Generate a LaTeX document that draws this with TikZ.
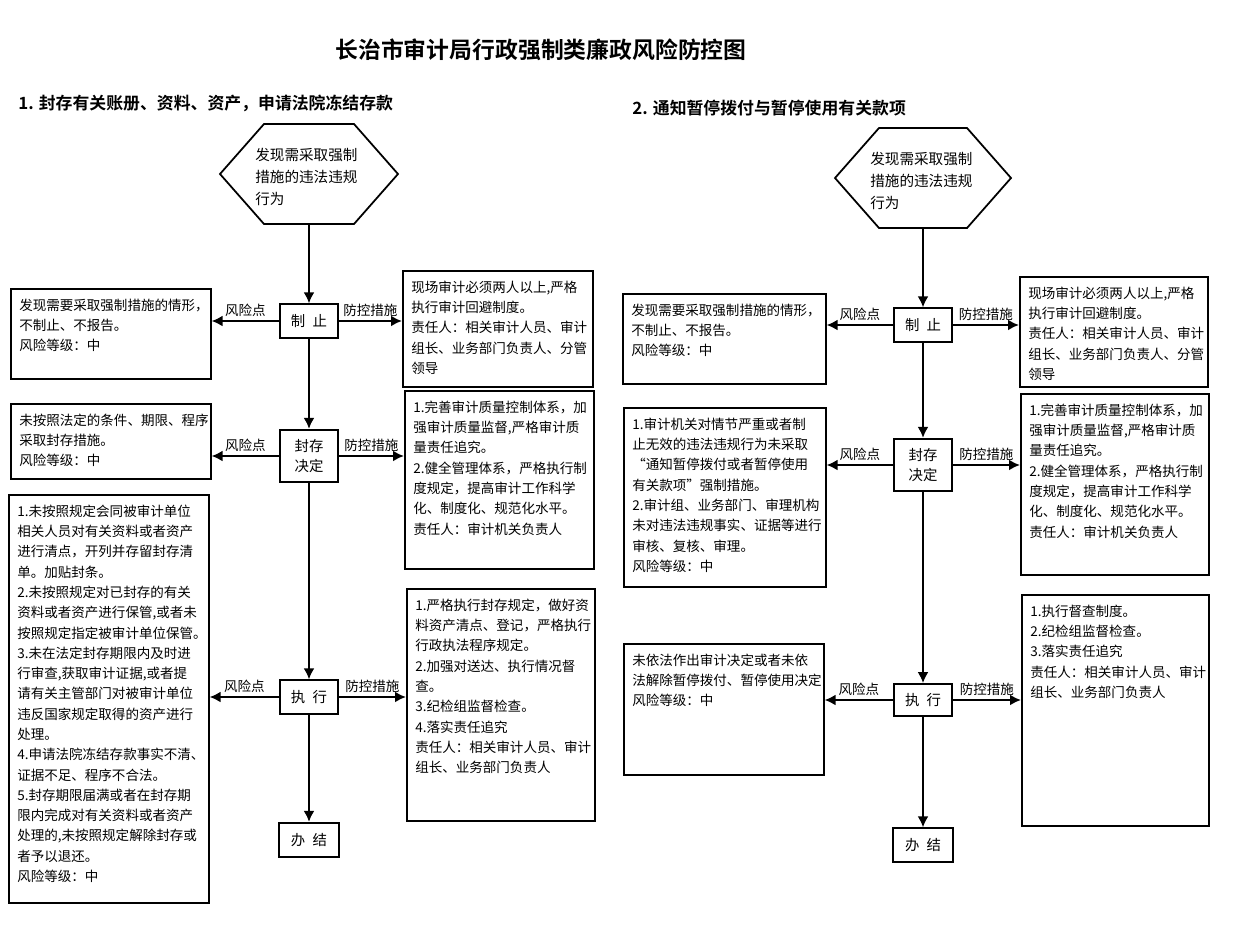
\documentclass[tikz,border=0pt]{standalone}
\usepackage{fontspec}
\setmainfont{Noto Sans CJK SC}[BoldFont={Noto Sans CJK SC Bold}]
\usetikzlibrary{arrows.meta}
\newlength{\pxu}\setlength{\pxu}{0.02cm}
\newcommand{\boxtext}[3]{\parbox[t][#2\pxu][t]{#1\pxu}{\raggedright #3}}

\begin{document}
\begin{tikzpicture}[x=0.02cm,y=-0.02cm,
	sidebox/.style={draw,line width=0.9pt,anchor=north west,inner xsep=0.17cm,inner ysep=0.2cm,font=\fontsize{7.7pt}{11.55pt}\selectfont},
	stepbox/.style={draw,line width=1pt,minimum width=1.16cm,inner sep=0pt,align=center,font=\fontsize{8.2pt}{11.5pt}\selectfont},
	flow/.style={-{Latex[length=2.2mm,width=2.2mm]},line width=1.5pt},
	tag/.style={above,midway,inner sep=1.5pt,font=\fontsize{7.7pt}{9pt}\selectfont},
	hexline/.style={line width=1pt},
	hextext/.style={anchor=north west,align=left,inner sep=0pt,font=\fontsize{8.3pt}{12.5pt}\selectfont}]
		\useasboundingbox (0,0) rectangle (1237,951);
		% titles
		\node[font=\fontsize{13pt}{15pt}\selectfont\bfseries] (title) at (541,50) {长治市审计局行政强制类廉政风险防控图};
		\node[anchor=west,inner sep=0pt,font=\fontsize{9.6pt}{11pt}\selectfont\bfseries] (head1) at (18,103) {1. 封存有关账册、资料、资产，申请法院冻结存款};
		\node[anchor=west,inner sep=0pt,font=\fontsize{9.6pt}{11pt}\selectfont\bfseries] (head2) at (632,108) {2. 通知暂停拨付与暂停使用有关款项};

		% left chart
		\draw[hexline] (220,174) -- (264,124) -- (354,124) -- (398,174) -- (354,224) -- (264,224) -- cycle;
		\coordinate (hex1s) at (309,224);
		\node[hextext] (hex1) at (255,148) {发现需采取强制\\措施的违法违规\\行为};
		\node[stepbox,minimum height=0.67cm] (stop1) at (309,321) {制\hspace{0.5em}止};
		\node[stepbox,minimum height=1.05cm] (seal1) at (309,456) {封存\\决定};
		\node[stepbox,minimum height=0.67cm] (exec1) at (309,697) {执\hspace{0.5em}行};
		\node[stepbox,minimum height=0.69cm,minimum width=1.2cm] (done1) at (309,840) {办\hspace{0.5em}结};

		\node[sidebox] (risk1) at (10,288) {\boxtext{183}{70}{发现需要采取强制措施的情形，\\不制止、不报告。\\风险等级：中}};
		\node[sidebox] (ctrl1) at (402,270) {\boxtext{173}{96}{现场审计必须两人以上,严格\\执行审计回避制度。\\责任人：相关审计人员、审计\\组长、业务部门负责人、分管\\领导}};
		\node[sidebox] (risk2) at (10,403) {\boxtext{183}{55}{未按照法定的条件、期限、程序\\采取封存措施。\\风险等级：中}};
		\node[sidebox] (ctrl2) at (404,390) {\boxtext{172}{158}{1.完善审计质量控制体系，加\\强审计质量监督,严格审计质\\量责任追究。\\2.健全管理体系，严格执行制\\度规定，提高审计工作科学\\化、制度化、规范化水平。\\责任人：审计机关负责人}};
		\node[sidebox] (risk3) at (8,494) {\boxtext{183}{388}{1.未按照规定会同被审计单位\\相关人员对有关资料或者资产\\进行清点，开列并存留封存清\\单。加贴封条。\\2.未按照规定对已封存的有关\\资料或者资产进行保管,或者未\\按照规定指定被审计单位保管。\\3.未在法定封存期限内及时进\\行审查,获取审计证据,或者提\\请有关主管部门对被审计单位\\违反国家规定取得的资产进行\\处理。\\4.申请法院冻结存款事实不清、\\证据不足、程序不合法。\\5.封存期限届满或者在封存期\\限内完成对有关资料或者资产\\处理的,未按照规定解除封存或\\者予以退还。\\风险等级：中}};
		\node[sidebox] (ctrl3) at (406,588) {\boxtext{171}{212}{1.严格执行封存规定，做好资\\料资产清点、登记，严格执行\\行政执法程序规定。\\2.加强对送达、执行情况督\\查。\\3.纪检组监督检查。\\4.落实责任追究\\责任人：相关审计人员、审计\\组长、业务部门负责人}};

		\draw[flow] (hex1s) -- (stop1.north);
		\draw[flow] (stop1.south) -- (seal1.north);
		\draw[flow] (seal1.south) -- (exec1.north);
		\draw[flow] (exec1.south) -- (done1.north);
		\draw[flow] (stop1.west) -- (stop1.west -| risk1.east) node[tag]{风险点};
		\draw[flow] (stop1.east) -- (stop1.east -| ctrl1.west) node[tag]{防控措施};
		\draw[flow] (seal1.west) -- (seal1.west -| risk2.east) node[tag]{风险点};
		\draw[flow] (seal1.east) -- (seal1.east -| ctrl2.west) node[tag]{防控措施};
		\draw[flow] (exec1.west) -- (exec1.west -| risk3.east) node[tag]{风险点};
		\draw[flow] (exec1.east) -- (exec1.east -| ctrl3.west) node[tag]{防控措施};

		% right chart
		\draw[hexline] (835,178) -- (879,128) -- (967,128) -- (1011,178) -- (967,228) -- (879,228) -- cycle;
		\coordinate (hex2s) at (923,228);
		\node[hextext] (hex2) at (870,152) {发现需采取强制\\措施的违法违规\\行为};
		\node[stepbox,minimum height=0.67cm] (stop2) at (923,325) {制\hspace{0.5em}止};
		\node[stepbox,minimum height=1.05cm] (seal2) at (923,465) {封存\\决定};
		\node[stepbox,minimum height=0.64cm] (exec2) at (923,700) {执\hspace{0.5em}行};
		\node[stepbox,minimum height=0.67cm,minimum width=1.2cm] (done2) at (923,845) {办\hspace{0.5em}结};

		\node[sidebox] (risk4) at (622,293) {\boxtext{186}{70}{发现需要采取强制措施的情形，\\不制止、不报告。\\风险等级：中}};
		\node[sidebox] (ctrl4) at (1019,276) {\boxtext{171}{90}{现场审计必须两人以上,严格\\执行审计回避制度。\\责任人：相关审计人员、审计\\组长、业务部门负责人、分管\\领导}};
		\node[sidebox] (risk5) at (623,407) {\boxtext{185}{159}{1.审计机关对情节严重或者制\\止无效的违法违规行为未采取\\“通知暂停拨付或者暂停使用\\有关款项”强制措施。\\2.审计组、业务部门、审理机构\\未对违法违规事实、证据等进行\\审核、复核、审理。\\风险等级：中}};
		\node[sidebox] (ctrl5) at (1020,393) {\boxtext{171}{161}{1.完善审计质量控制体系，加\\强审计质量监督,严格审计质\\量责任追究。\\2.健全管理体系，严格执行制\\度规定，提高审计工作科学\\化、制度化、规范化水平。\\责任人：审计机关负责人}};
		\node[sidebox] (risk6) at (623,643) {\boxtext{183}{111}{未依法作出审计决定或者未依\\法解除暂停拨付、暂停使用决定\\风险等级：中}};
		\node[sidebox] (ctrl6) at (1021,594) {\boxtext{170}{211}{1.执行督查制度。\\2.纪检组监督检查。\\3.落实责任追究\\责任人：相关审计人员、审计\\组长、业务部门负责人}};

		\draw[flow] (hex2s) -- (stop2.north);
		\draw[flow] (stop2.south) -- (seal2.north);
		\draw[flow] (seal2.south) -- (exec2.north);
		\draw[flow] (exec2.south) -- (done2.north);
		\draw[flow] (stop2.west) -- (stop2.west -| risk4.east) node[tag]{风险点};
		\draw[flow] (stop2.east) -- (stop2.east -| ctrl4.west) node[tag]{防控措施};
		\draw[flow] (seal2.west) -- (seal2.west -| risk5.east) node[tag]{风险点};
		\draw[flow] (seal2.east) -- (seal2.east -| ctrl5.west) node[tag]{防控措施};
		\draw[flow] (exec2.west) -- (exec2.west -| risk6.east) node[tag]{风险点};
		\draw[flow] (exec2.east) -- (exec2.east -| ctrl6.west) node[tag]{防控措施};
\end{tikzpicture}
\end{document}
